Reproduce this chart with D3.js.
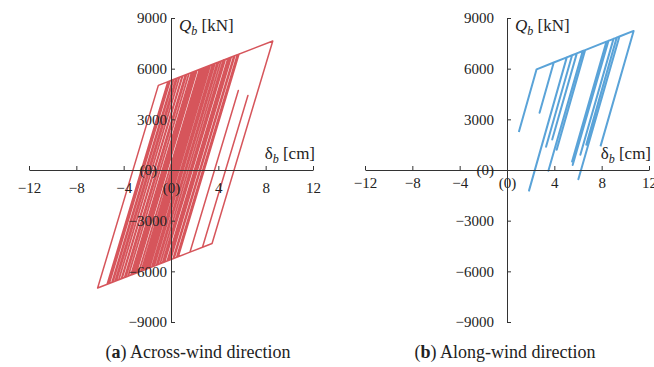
<!DOCTYPE html>
<html>
<head>
<meta charset="utf-8">
<script src="https://cdn.jsdelivr.net/npm/d3@7"></script>
<style>
  body { margin: 0; background: #fff; }
  svg text { font-family: "Liberation Serif", "Times New Roman", serif; fill: #222; }
</style>
</head>
<body>
<svg id="chart" width="654" height="367"></svg>
<script>
// tick values shared by both panels
const xTicks = [-12, -8, -4, 0, 4, 8, 12];
const yTicks = [-9000, -6000, -3000, 0, 3000, 6000, 9000];

// (a) across-wind: isolator displacement [cm] / shear [kN], turning points
const acrossX = [0, 2.56, 3.6, -1.53, -2.2, 2.93, 4.2, -0.93, -1.4, 3.73, 5.0, -0.13, -3.0, 2.13, 2.6,
  -2.53, -3.8, 1.33, 1.9, -3.23, -4.6, 0.53, 1.2, -3.93, -5.0, 0.13, 0.7, -4.43, -4.9, 0.23, 3.2,
  -1.93, -2.7, 2.43, 4.6, -0.53, -0.9, 4.23, 5.4, 0.27, -0.2, 4.93, 5.75, 0.62, -1.1, 4.03, 8.6,
  3.47, 2.66, 6.5, 2.66, 1.6, 5.69, 1.6, -6.2, -1.07, 1.5, -3.63, -4.2, 0.93, 2.2, -2.93, -3.4,
  1.73, 3.9, -1.23, -1.8, 3.33, 4.5, -0.63, -2.4, 2.73, 3.0, -2.13, -3.6, 1.53, 2.8, -2.33, -5.3,
  -0.17, 0.4, -4.73, -5.2, -0.07, 5.3, 0.17, -0.3, 4.83, 5.6, 0.47, -1.6, 3.53, 4.8, -0.33, -3.1,
  2.03, 2.4, -2.73, -4.4, 0.73, 1.0, -4.13, -5.4, -0.27, 3.5, -1.63, -2.0, 3.13, 4.4, -0.73, -3.3,
  1.83, 5.1, -0.03, -0.7, 4.43, 2.0];
const acrossQ = [0, 5997, 6279, -5716, -5898, 6097, 6442, -5553, -5681, 6315, 6660, -5335, -6116, 5879, 6007,
  -5988, -6334, 5662, 5817, -6179, -6551, 5444, 5626, -6369, -6660, 5335, 5490, -6505, -6633, 5363, 6170,
  -5825, -6034, 5961, 6551, -5444, -5545, 6451, 6769, -5227, -5354, 6641, 6864, -5131, -5599, 6396, 7639,
  -4356, -4577, 4409, -4577, -4865, 4706, -4865, -6986, 5009, 5708, -6287, -6442, 5553, 5898, -6097, -6225,
  5771, 6361, -5635, -5790, 6206, 6524, -5471, -5953, 6043, 6116, -5879, -6279, 5716, 6062, -5934, -6742,
  5254, 5409, -6587, -6714, 5281, 6742, -5254, -5382, 6614, 6823, -5172, -5735, 6260, 6606, -5390, -6143,
  5852, 5953, -6043, -6497, 5499, 5572, -6423, -6769, 5227, 6252, -5743, -5844, 6151, 6497, -5499, -6198,
  5798, 6687, -5308, -5490, 6505, 819];

// (b) along-wind
const alongX = [1.0, 2.5, 3.95, 2.75, 3.95, 5.05, 1.86, 5.05, 5.5, 3.3, 5.5, 5.9, 3.82, 5.9, 6.4, 3.5,
  6.4, 6.6, 4.2, 6.6, 8.4, 5.5, 8.4, 8.57, 5.55, 8.57, 9.0, 6.2, 9.0, 9.27, 6.7, 9.27, 9.5, 6.03,
  9.5, 10.7, 7.9];
const alongQ = [2250, 5960, 6364, 3390, 6364, 6669, -1220, 6669, 6794, 1380, 6794, 6904, 1800, 6904, 7043, -40,
  7043, 7098, 1200, 7098, 7597, 500, 7597, 7644, 296, 7644, 7763, 900, 7763, 7838, 1500, 7838, 7902, -550,
  7902, 8234, 1400];

const panelTags = ['a', 'b'];
const panelTitles = [' Across-wind direction', ' Along-wind direction'];

const svg = d3.select('#chart');

const panels = [
  { x: acrossX, q: acrossQ, color: '#d6555b', width: 1.5, ox: 171, yPad: 4, zeroShift: -10, xPad: 12, capX: 198 },
  { x: alongX, q: alongQ, color: '#5aa3d8', width: 2, ox: 507, yPad: 13, zeroShift: 0, xPad: 7, capX: 505 }
];

panels.forEach((p, i) => {
  const g = svg.append('g');
  const xScale = d3.scaleLinear().domain([-12, 12]).range([p.ox - 142, p.ox + 142]);
  const yScale = d3.scaleLinear().domain([-9000, 9000]).range([322, 18]);
  const fmt = d => d === 0 ? '(0)' : d3.format('d')(d);

  // loop first, axes drawn over it
  const line = d3.line()
    .x(d => xScale(d[0]))
    .y(d => yScale(d[1]));
  const pts = p.x.map((v, j) => [v, p.q[j]]);
  g.append('path')
    .datum(pts)
    .attr('fill', 'none')
    .attr('stroke', p.color)
    .attr('stroke-width', p.width)
    .attr('stroke-linejoin', 'round')
    .attr('d', line);

  const xAxis = d3.axisBottom(xScale).tickValues(xTicks).tickFormat(fmt)
    .tickSizeInner(-4).tickSizeOuter(0).tickPadding(p.xPad);
  const yAxis = d3.axisLeft(yScale).tickValues(yTicks).tickFormat(fmt)
    .tickSizeInner(-4).tickSizeOuter(0).tickPadding(p.yPad);

  const gx = g.append('g')
    .attr('transform', `translate(0,${yScale(0)})`)
    .call(xAxis);
  const gy = g.append('g')
    .attr('transform', `translate(${xScale(0)},0)`)
    .call(yAxis);

  [gx, gy].forEach(a => {
    a.selectAll('path, line').attr('stroke', '#333').attr('stroke-width', 1);
    a.selectAll('text').attr('font-size', 15).attr('fill', '#222')
      .attr('font-family', '"Liberation Serif", serif');
  });
  gy.selectAll('.tick').filter(d => d === 0).select('text')
    .attr('x', -p.yPad + p.zeroShift);

  // axis titles
  const qt = g.append('text')
    .attr('x', xScale(0) + 8).attr('y', 31).attr('font-size', 17);
  qt.append('tspan').attr('font-style', 'italic').text('Q');
  qt.append('tspan').attr('font-style', 'italic').attr('font-size', 12).attr('dy', 4).text('b');
  qt.append('tspan').attr('dy', -4).text(' [kN]');

  const dt = g.append('text')
    .attr('x', xScale(8) - 1).attr('y', 159).attr('font-size', 17);
  dt.append('tspan').text('δ');
  dt.append('tspan').attr('font-style', 'italic').attr('font-size', 12).attr('dy', 4).text('b');
  dt.append('tspan').attr('dy', -4).text(' [cm]');

  // caption
  const cap = g.append('text')
    .attr('x', p.capX).attr('y', 358).attr('font-size', 18).attr('text-anchor', 'middle')
    .attr('font-family', '"Liberation Serif", serif');
  cap.append('tspan').text('(');
  cap.append('tspan').attr('font-weight', 'bold').text(panelTags[i]);
  cap.append('tspan').text(')' + panelTitles[i]);
});
</script>
</body>
</html>
